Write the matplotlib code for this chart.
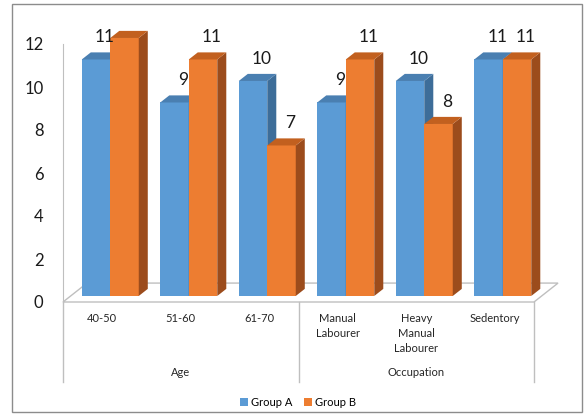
import matplotlib
matplotlib.use('Agg')
import matplotlib.pyplot as plt
from matplotlib.patches import Polygon, Rectangle, Patch

categories = ['40-50', '51-60', '61-70', 'Manual\nLabourer', 'Heavy\nManual\nLabourer', 'Sedentory']
groups = ['Age', 'Occupation']
group_spans = [(0, 2), (3, 5)]
group_a = [11, 9, 10, 9, 10, 11]
group_b = [12, 11, 7, 11, 8, 11]
labels_a = ['11', '9', '10', '9', '10', '11']
labels_b = ['', '11', '7', '11', '8', '11']
yticks = [0, 2, 4, 6, 8, 10, 12]

plt.rcParams['font.family'] = ['Lato', 'DejaVu Sans']

W, H = 585, 418
fig = plt.figure(figsize=(W / 100, H / 100), dpi=100)
ax_left, ax_right, ax_bot, ax_top = 63, 534, 302, 44
ax = fig.add_axes([ax_left / W, (H - ax_bot) / H, (ax_right - ax_left) / W, (ax_bot - ax_top) / H])
ax.set_xlim(-0.5, len(categories) - 0.5)
ax.set_ylim(0, 12)

# 3d look: offsets in data units
bar_w = 0.363
shift_x, shift_y = 0.102, 0.28
depth_x, depth_y = 0.115, 0.33
floor_x, floor_y = 0.306, 0.88

floor = Polygon([(-0.5, 0), (5.5, 0), (5.5 + floor_x, floor_y), (-0.5 + floor_x, floor_y)],
                closed=True, facecolor='white', edgecolor='#bfbfbf', lw=1, clip_on=False, zorder=1)
ax.add_patch(floor)

styles = {
    'a': ('#5b9bd5', '#3d6d99', '#4a7fb1'),
    'b': ('#ed7d31', '#9c4c1c', '#c2601f'),
}


def draw_bar(x0, h, colors):
    front, side, top = colors
    x1 = x0 + bar_w
    y0 = shift_y
    y1 = h + shift_y
    ax.add_patch(Polygon([(x0, y0), (x1, y0), (x1, y1), (x0, y1)], closed=True,
                         facecolor=front, edgecolor='none', clip_on=False, zorder=3))
    ax.add_patch(Polygon([(x1, y0), (x1 + depth_x, y0 + depth_y), (x1 + depth_x, y1 + depth_y), (x1, y1)],
                         closed=True, facecolor=side, edgecolor='none', clip_on=False, zorder=3))
    ax.add_patch(Polygon([(x0, y1), (x1, y1), (x1 + depth_x, y1 + depth_y), (x0 + depth_x, y1 + depth_y)],
                         closed=True, facecolor=top, edgecolor='none', clip_on=False, zorder=3))


for i in range(len(categories)):
    c = i + shift_x
    draw_bar(c - bar_w, group_a[i], styles['a'])
    draw_bar(c, group_b[i], styles['b'])
    ax.text(c - bar_w / 2 + 0.11, group_a[i] + 1.32, labels_a[i], ha='center', va='center',
            fontsize=12.5, color='#1a1a1a', zorder=4)
    ax.text(c + bar_w / 2 + 0.11, group_b[i] + 1.32, labels_b[i], ha='center', va='center',
            fontsize=12.5, color='#1a1a1a', zorder=4)

for s in ['top', 'right', 'bottom']:
    ax.spines[s].set_visible(False)
ax.spines['left'].set_color('#bfbfbf')
ax.set_yticks(yticks)
ax.set_yticklabels([str(t) for t in yticks], fontsize=12, color='#1a1a1a')
ax.tick_params(axis='y', length=0, pad=14)
ax.set_xticks([])
ax.patch.set_visible(False)

span = ax_bot - ax_top


def frac(py):
    return (ax_bot - py) / span


trans = ax.get_xaxis_transform()
for i, cat in enumerate(categories):
    ax.text(i, frac(313), cat, transform=trans, ha='center', va='top', fontsize=8,
            color='#262626', linespacing=1.45)
for name, (a, b) in zip(groups, group_spans):
    ax.text((a + b) / 2, frac(373), name, transform=trans, ha='center', va='center',
            fontsize=8, color='#262626')
for xs in [-0.5, 2.5, 5.5]:
    ax.plot([xs, xs], [0, frac(382)], transform=trans, color='#bfbfbf', lw=1, clip_on=False)

handles = [Patch(facecolor=styles['a'][0], label='Group A'), Patch(facecolor=styles['b'][0], label='Group B')]
fig.legend(handles=handles, loc='center', bbox_to_anchor=(298 / W, (H - 402) / H), ncol=2, frameon=False,
           fontsize=8, handlelength=0.7, handleheight=0.7, handletextpad=0.3, columnspacing=1.0)

fig.patches.append(Rectangle((12 / W, (H - 412) / H), 570 / W, 408 / H, transform=fig.transFigure,
                             fill=False, edgecolor='#8c8c8c', lw=1))

fig.savefig('out.png', dpi=100)
